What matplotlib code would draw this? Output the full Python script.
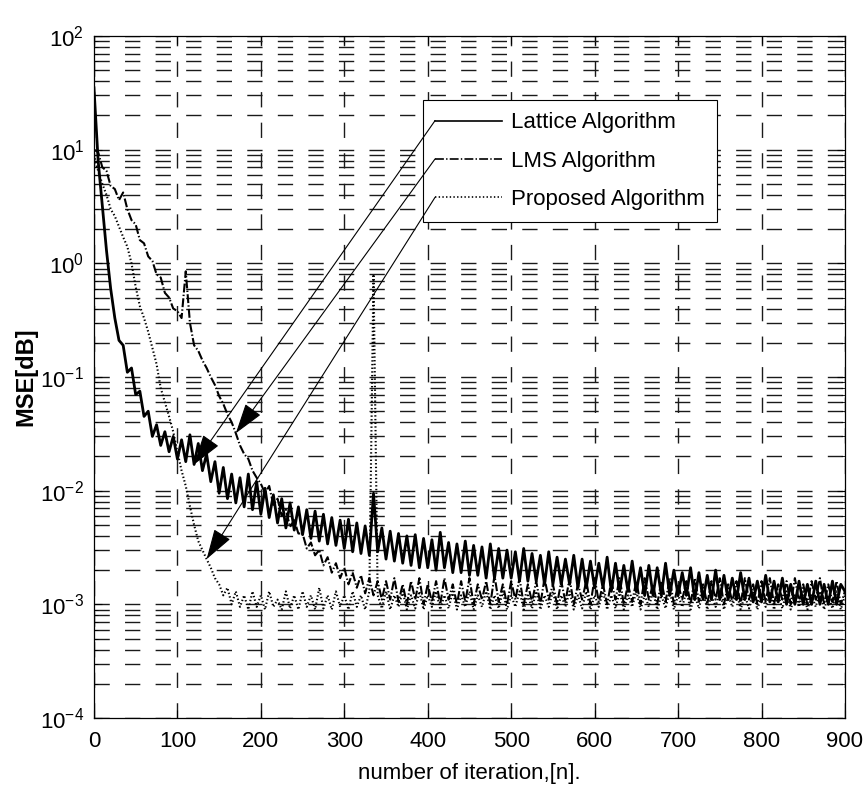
import numpy as np
import matplotlib
matplotlib.use('Agg')
import matplotlib.pyplot as plt
from matplotlib.patches import ConnectionPatch
from matplotlib.ticker import NullFormatter

plt.rcParams['font.family'] = ['Liberation Sans', 'DejaVu Sans']
plt.rcParams['mathtext.default'] = 'regular'
plt.rcParams['lines.scale_dashes'] = False

# iteration index, one sample every 5 iterations
n = np.arange(0, 905, 5)

# MSE
lattice = [
    35, 8.0, 3.2, 1.3, 0.6, 0.33, 0.21, 0.19, 0.11, 0.12,
    0.07, 0.075, 0.045, 0.05, 0.03, 0.038, 0.025, 0.033, 0.022, 0.03,
    0.019, 0.028, 0.018, 0.031, 0.017, 0.026, 0.015, 0.021, 0.012, 0.018,
    0.0095, 0.016, 0.0085, 0.014, 0.0078, 0.013, 0.0072, 0.014, 0.0068, 0.012,
    0.0062, 0.0105, 0.0058, 0.0092, 0.0052, 0.0085, 0.0047, 0.0078, 0.0045, 0.0072,
    0.0041, 0.0068, 0.0038, 0.0066, 0.0036, 0.0062, 0.0034, 0.0058, 0.0033, 0.0055,
    0.0031, 0.0056, 0.0029, 0.0052, 0.0028, 0.0049, 0.0027, 0.0095, 0.0029, 0.0047,
    0.0025, 0.0044, 0.0024, 0.0042, 0.0023, 0.0040, 0.0022, 0.0041, 0.0021, 0.0038,
    0.0021, 0.0037, 0.0020, 0.0043, 0.0021, 0.0035, 0.0019, 0.0034, 0.0019, 0.0036,
    0.0018, 0.0033, 0.0018, 0.0032, 0.0017, 0.0034, 0.0017, 0.0031, 0.0017, 0.0030,
    0.0017, 0.0029, 0.0016, 0.0031, 0.0016, 0.0028, 0.0016, 0.0027, 0.0015, 0.0029,
    0.0015, 0.0026, 0.0015, 0.0025, 0.0015, 0.0027, 0.0014, 0.0025, 0.0014, 0.0024,
    0.0014, 0.0023, 0.0014, 0.0026, 0.0013, 0.0023, 0.0013, 0.0022, 0.0013, 0.0024,
    0.0013, 0.0021, 0.0012, 0.0022, 0.0012, 0.0021, 0.0012, 0.0023, 0.0012, 0.0020,
    0.0012, 0.0019, 0.0012, 0.0021, 0.0011, 0.0019, 0.0011, 0.0018, 0.0011, 0.0020,
    0.0011, 0.0018, 0.0011, 0.0017, 0.0011, 0.0019, 0.0011, 0.0017, 0.00105, 0.0016,
    0.00105, 0.0018, 0.00105, 0.0016, 0.00105, 0.0017, 0.0010, 0.0015, 0.0010, 0.0016,
    0.0010, 0.0015, 0.0010, 0.0016, 0.0010, 0.0015, 0.0010, 0.0016, 0.0010, 0.0015,
    0.0013,
]

lms = [
    10, 9.5, 7.0, 6.5, 4.8, 4.5, 3.6, 4.2, 3.0, 2.4,
    2.2, 1.6, 1.5, 1.15, 1.05, 0.8, 0.75, 0.55, 0.5, 0.4,
    0.38, 0.33, 0.85, 0.3, 0.19, 0.17, 0.14, 0.12, 0.1, 0.085,
    0.068, 0.058, 0.047, 0.04, 0.032, 0.025, 0.021, 0.019, 0.015, 0.013,
    0.0115, 0.0095, 0.011, 0.0075, 0.0085, 0.006, 0.0068, 0.0048, 0.0055, 0.0042,
    0.0042, 0.0031, 0.0035, 0.0027, 0.0030, 0.0022, 0.0026, 0.0019, 0.0023, 0.0017,
    0.0021, 0.0015, 0.0019, 0.0014, 0.0018, 0.00125, 0.0017, 0.0012, 0.0016, 0.0011,
    0.0016, 0.0011, 0.0017, 0.00105, 0.0015, 0.0010, 0.0016, 0.0011, 0.0017, 0.0010,
    0.0015, 0.00105, 0.0016, 0.0010, 0.0017, 0.0011, 0.0015, 0.0010, 0.0016, 0.00105,
    0.0017, 0.0010, 0.0015, 0.0011, 0.0016, 0.0010, 0.0018, 0.00105, 0.0015, 0.0010,
    0.0016, 0.0011, 0.0017, 0.0010, 0.0015, 0.00105, 0.0016, 0.0010, 0.0017, 0.0011,
    0.0015, 0.0010, 0.0016, 0.00105, 0.0017, 0.0010, 0.0015, 0.0011, 0.0016, 0.0010,
    0.0017, 0.00105, 0.0015, 0.0010, 0.0016, 0.0011, 0.0017, 0.0010, 0.0015, 0.00105,
    0.0016, 0.0010, 0.0017, 0.0011, 0.0015, 0.0010, 0.0016, 0.00105, 0.0017, 0.0010,
    0.0015, 0.0011, 0.0016, 0.0010, 0.0017, 0.00105, 0.0015, 0.0010, 0.0016, 0.0011,
    0.0017, 0.0010, 0.0015, 0.00105, 0.0016, 0.0010, 0.0017, 0.0011, 0.0015, 0.0010,
    0.0016, 0.00105, 0.0017, 0.0010, 0.0015, 0.0011, 0.0016, 0.0010, 0.0017, 0.00105,
    0.0015, 0.0010, 0.0016, 0.0011, 0.0017, 0.0010, 0.0015, 0.00105, 0.0016, 0.0010,
    0.0013,
]

proposed = [
    9.0, 6.5, 5.0, 4.0, 3.0, 2.6, 2.1, 1.7, 1.4, 1.0,
    0.62, 0.42, 0.33, 0.25, 0.18, 0.13, 0.08, 0.06, 0.045, 0.033,
    0.022, 0.015, 0.011, 0.0073, 0.005, 0.0036, 0.003, 0.0025, 0.0021, 0.0017,
    0.0015, 0.0012, 0.0014, 0.0010, 0.0013, 0.00095, 0.0012, 0.0009, 0.0013, 0.00095,
    0.0012, 0.0009, 0.0013, 0.00095, 0.0011, 0.0009, 0.0013, 0.00092, 0.0012, 0.0009,
    0.0013, 0.00095, 0.0012, 0.0009, 0.0014, 0.00092, 0.0012, 0.0009, 0.0013, 0.00095,
    0.0012, 0.0009, 0.0013, 0.00095, 0.0012, 0.0009, 0.0013, 0.8, 0.0012, 0.00092,
    0.0013, 0.0009, 0.0012, 0.00095, 0.0013, 0.0009, 0.0012, 0.00092, 0.0013, 0.0009,
    0.0012, 0.00095, 0.0013, 0.0009, 0.0012, 0.00092, 0.0013, 0.0009, 0.0012, 0.00095,
    0.0013, 0.0009, 0.0012, 0.00095, 0.0013, 0.0009, 0.0012, 0.00092, 0.0013, 0.0009,
    0.0012, 0.00095, 0.0013, 0.0009, 0.0012, 0.00092, 0.0013, 0.0009, 0.0012, 0.00095,
    0.0013, 0.0009, 0.0012, 0.00095, 0.0013, 0.0009, 0.0012, 0.00092, 0.0013, 0.0009,
    0.0012, 0.00095, 0.0013, 0.0009, 0.0012, 0.00092, 0.0013, 0.0009, 0.0012, 0.00095,
    0.0013, 0.0009, 0.0012, 0.00095, 0.0013, 0.0009, 0.0012, 0.00092, 0.0013, 0.0009,
    0.0012, 0.00095, 0.0013, 0.0009, 0.0012, 0.00092, 0.0013, 0.0009, 0.0012, 0.00095,
    0.0013, 0.0009, 0.0012, 0.00095, 0.0013, 0.0009, 0.0012, 0.00092, 0.0013, 0.0009,
    0.0012, 0.00095, 0.0013, 0.0009, 0.0012, 0.00092, 0.0013, 0.0009, 0.0012, 0.00095,
    0.0013, 0.0009, 0.0012, 0.00095, 0.0013, 0.0009, 0.0012, 0.00092, 0.0013, 0.0009,
    0.0012,
]

labels = ['Lattice Algorithm', 'LMS Algorithm', 'Proposed Algorithm']
# iteration each legend arrow points at
arrow_at = [120, 170, 135]
x_ticks = list(range(0, 1000, 100))
y_ticks = [1e-4, 1e-3, 1e-2, 1e-1, 1e0, 1e1, 1e2]

fig = plt.figure(figsize=(8.66, 7.94), dpi=100)
ax = fig.add_axes([0.1085, 0.0957, 0.8672, 0.859])

series = [lattice, lms, proposed]
styles = [dict(ls='-', lw=2.0), dict(ls='-.', lw=1.5), dict(ls=':', lw=1.5)]
for vals, lab, st in zip(series, labels, styles):
    ax.plot(n, vals, color='k', label=lab, zorder=3, **st)

ax.set_yscale('log')
ax.set_xlim(0, 900)
ax.set_ylim(1e-4, 1e2)
ax.set_xticks(x_ticks)
ax.set_yticks(y_ticks)
ax.yaxis.set_minor_formatter(NullFormatter())

grid_style = dict(color='0.1', lw=1.0, ls=(0, (11, 11)))
ax.grid(True, which='major', axis='both', **grid_style)
ax.grid(True, which='minor', axis='y', **grid_style)
ax.set_axisbelow(True)

ax.tick_params(which='both', direction='in', top=True, right=True, labelsize=16)
ax.tick_params(which='major', length=6, width=0.8)
ax.tick_params(which='minor', length=3, width=0.6)
ax.tick_params(axis='x', pad=9)
ax.tick_params(axis='y', pad=7)
for s in ax.spines.values():
    s.set_linewidth(0.9)

ax.set_xlabel('number of iteration,[n].', fontsize=16)
ax.xaxis.set_label_coords(0.5, -0.066)
ax.set_ylabel('MSE[dB]', fontsize=17, fontweight='bold')
ax.yaxis.set_label_coords(-0.076, 0.5)

leg = ax.legend(loc='upper left', bbox_to_anchor=(0.438, 0.906), borderaxespad=0,
                fontsize=16, handlelength=3.0, handletextpad=0.4, labelspacing=0.78,
                borderpad=0.55, fancybox=False, framealpha=1, edgecolor='k')
leg.get_frame().set_linewidth(0.8)
leg.set_zorder(5)
for h in leg.get_lines():
    h.set_linewidth(1.2)

# arrows from each legend entry to its curve
fig.canvas.draw()
renderer = fig.canvas.get_renderer()
for line, vals, at in zip(leg.get_lines(), series, arrow_at):
    bb = line.get_window_extent(renderer)
    start = ax.transAxes.inverted().transform((bb.x0, (bb.y0 + bb.y1) / 2))
    i = list(n).index(at)
    arrow = ConnectionPatch(xyA=tuple(start), coordsA='axes fraction',
                            xyB=(n[i], vals[i]), coordsB='data', axesA=ax, axesB=ax,
                            arrowstyle='-|>,head_length=0.8,head_width=0.25',
                            mutation_scale=24, color='k', lw=0.8,
                            shrinkA=0, shrinkB=0, zorder=6)
    ax.add_artist(arrow)

fig.savefig('out.png', dpi=100)
